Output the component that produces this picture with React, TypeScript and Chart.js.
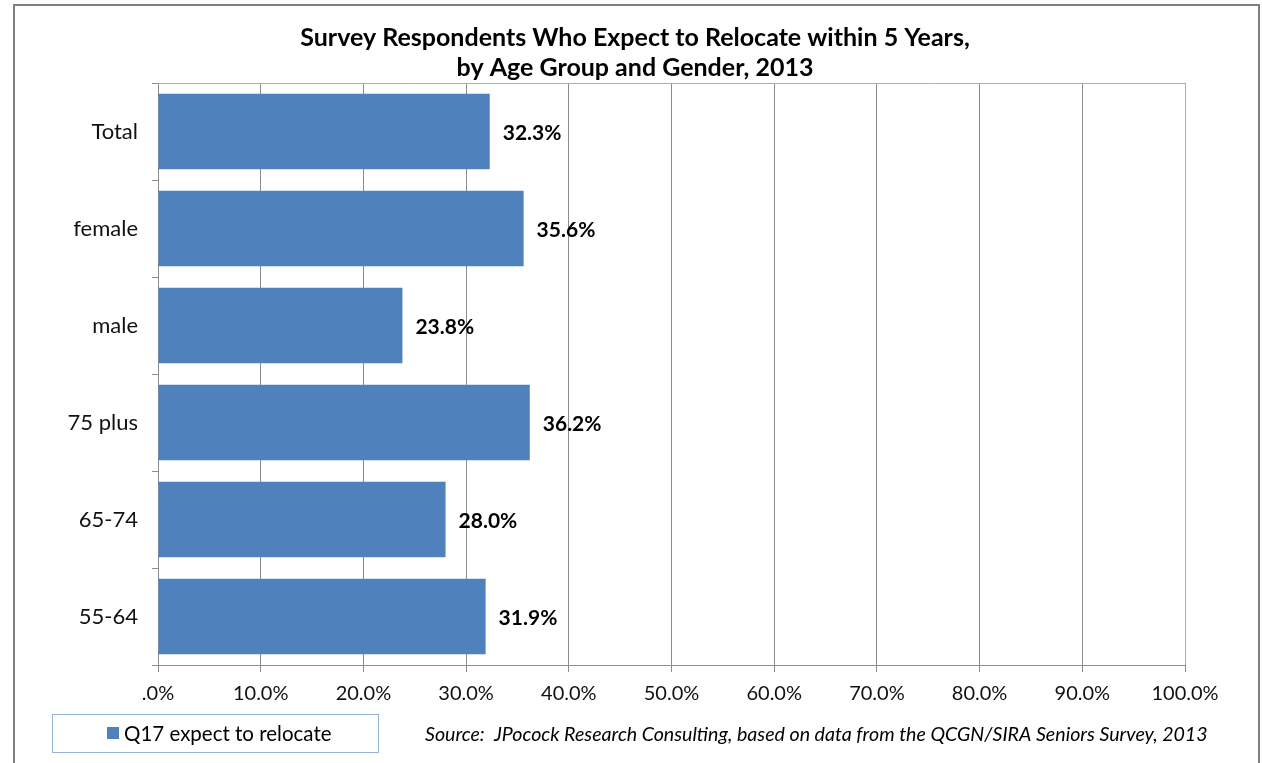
import React, { useEffect, useRef } from "react";
import { Chart, registerables } from "chart.js";

Chart.register(...registerables);

const categories = ["Total", "female", "male", "75 plus", "65-74", "55-64"];
const values = [32.3, 35.6, 23.8, 36.2, 28.0, 31.9];
const seriesName = "Q17 expect to relocate";
const titleLines = [
  "Survey Respondents Who Expect to Relocate within 5 Years,",
  "by Age Group and Gender, 2013",
];
const sourceText =
  "Source:  JPocock Research Consulting, based on data from the QCGN/SIRA Seniors Survey, 2013";

const FONT = "Lato, 'Open Sans', sans-serif";
const BAR = "#4F81BD";

const decorPlugin = {
  id: "decor",
  beforeDraw(chart: any) {
    const ctx = chart.ctx;
    ctx.save();
    ctx.fillStyle = "#ffffff";
    ctx.fillRect(0, 0, chart.width, chart.height);
    ctx.restore();
  },
  afterDraw(chart: any) {
    const ctx = chart.ctx;
    const a = chart.chartArea;
    ctx.save();
    // outer frame
    ctx.strokeStyle = "#808080";
    ctx.lineWidth = 2;
    ctx.strokeRect(14, 5, 1245, 800);
    // plot top/right borders
    ctx.strokeStyle = "#95B3D7";
    ctx.lineWidth = 1;
    ctx.beginPath();
    ctx.moveTo(a.left, a.top + 0.5);
    ctx.lineTo(a.right + 0.5, a.top + 0.5);
    ctx.lineTo(a.right + 0.5, a.bottom);
    ctx.stroke();
    // title
    ctx.fillStyle = "#000";
    ctx.font = `bold 25px ${FONT}`;
    ctx.textAlign = "center";
    ctx.textBaseline = "middle";
    ctx.fillText(titleLines[0], 635, 38);
    ctx.fillText(titleLines[1], 635, 68);
    // legend box
    ctx.strokeStyle = "#95B3D7";
    ctx.strokeRect(52.5, 714.5, 326, 38);
    ctx.fillStyle = BAR;
    ctx.fillRect(107, 727, 12, 12);
    ctx.fillStyle = "#000";
    ctx.font = `20.5px ${FONT}`;
    ctx.textAlign = "left";
    ctx.fillText(seriesName, 124, 734);
    // source
    ctx.font = `italic 19.6px ${FONT}`;
    ctx.fillText(sourceText, 425, 735);
    ctx.restore();
  },
  afterDatasetsDraw(chart: any) {
    const ctx = chart.ctx;
    const meta = chart.getDatasetMeta(0);
    ctx.save();
    ctx.fillStyle = "#000";
    ctx.font = `bold 21px ${FONT}`;
    ctx.textAlign = "left";
    ctx.textBaseline = "middle";
    meta.data.forEach((el: any, i: number) => {
      ctx.fillText(values[i].toFixed(1) + "%", el.x + 13, el.y + 2);
    });
    ctx.restore();
  },
};

export default function App() {
  const ref = useRef<HTMLCanvasElement>(null);
  useEffect(() => {
    if (!ref.current) return;
    const chart = new Chart(ref.current, {
      type: "bar",
      data: {
        labels: categories,
        datasets: [
          {
            label: seriesName,
            data: values,
            backgroundColor: BAR,
            categoryPercentage: 1,
            barPercentage: 0.78,
          },
        ],
      },
      options: {
        indexAxis: "y",
        responsive: false,
        animation: false,
        layout: { padding: { top: 83, right: 77, left: 0, bottom: 0 } },
        plugins: {
          legend: { display: false },
          title: { display: false },
          tooltip: { enabled: false },
        },
        scales: {
          x: {
            min: 0,
            max: 100,
            ticks: {
              stepSize: 10,
              color: "#111",
              font: { family: FONT, size: 20 },
              padding: 10,
              callback: (v: any) => (Number(v) === 0 ? ".0%" : Number(v).toFixed(1) + "%"),
            },
            grid: { color: "#8C8C8C", tickLength: 7, drawTicks: true },
            border: { color: "#8C8C8C" },
            afterFit: (s: any) => {
              s.height = 98;
            },
          },
          y: {
            ticks: {
              color: "#111",
              font: { family: FONT, size: 22 },
              padding: 14,
            },
            grid: {
              drawOnChartArea: false,
              color: "#8C8C8C",
              tickLength: 6,
              offset: true,
            },
            border: { color: "#8C8C8C" },
            afterFit: (s: any) => {
              s.width = 158;
            },
          },
        },
      },
      plugins: [decorPlugin],
    });
    return () => chart.destroy();
  }, []);
  return (
    <div style={{ position: "absolute", left: 0, top: 0, width: 1262, height: 763 }}>
      <canvas ref={ref} width={1262} height={763} style={{ display: "block" }} />
    </div>
  );
}
